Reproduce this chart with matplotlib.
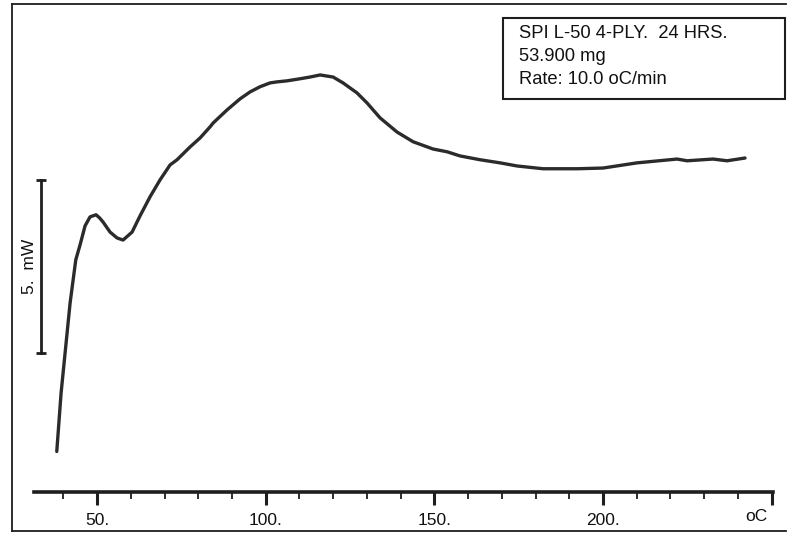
import matplotlib
matplotlib.use("Agg")
import matplotlib.pyplot as plt
from matplotlib.lines import Line2D

plt.rcParams['font.family'] = ['Liberation Sans', 'DejaVu Sans']

# DSC trace: temperature (oC) vs heat flow (mW, arbitrary offset)
temp = [38.05, 39.33, 42.00, 43.69, 44.96, 46.44, 47.92, 49.70, 50.74, 51.78,
        53.85, 55.93, 57.71, 60.38, 62.75, 65.71, 68.68, 71.64, 73.72, 77.57,
        80.54, 83.50, 84.39, 88.54, 92.40, 95.36, 98.33, 101.29, 103.37,
        106.33, 110.18, 113.15, 116.11, 119.97, 122.93, 127.08, 130.05,
        133.90, 138.94, 143.69, 149.61, 153.77, 157.62, 163.55, 169.48,
        174.52, 182.23, 192.31, 200.0, 210.09, 221.95, 224.91, 232.62,
        236.77, 242.11]
heat_flow = [1.17, 2.86, 5.46, 6.71, 7.14, 7.69, 7.95, 8.01, 7.92, 7.80,
             7.51, 7.34, 7.28, 7.51, 7.98, 8.53, 9.02, 9.45, 9.60, 9.97,
             10.23, 10.55, 10.66, 11.04, 11.36, 11.56, 11.71, 11.82, 11.85,
             11.88, 11.94, 11.99, 12.05, 11.99, 11.82, 11.53, 11.24,
             10.81, 10.40, 10.12, 9.91, 9.83, 9.71, 9.60, 9.51,
             9.42, 9.34, 9.34, 9.36, 9.51, 9.62, 9.57, 9.62,
             9.57, 9.65]

major_ticks = [50, 100, 150, 200, 250]
major_labels = ["50.", "100.", "150.", "200.", ""]
minor_ticks = list(range(40, 250, 10))

info_lines = ["SPI L-50 4-PLY.  24 HRS.", "53.900 mg", "Rate: 10.0 oC/min"]
scale_mw = 5.0
ink = "#1e1e1e"

W, H = 788, 533
fig = plt.figure(figsize=(W / 100, H / 100), dpi=100)
ax = fig.add_axes([34 / W, 41 / H, (773 - 34) / W, (492 - 4) / H])
ax.set_xlim(31.3, 250.4)
ax.set_ylim(0, 14.1)

ax.plot(temp, heat_flow, color="#2b2b2b", lw=2.4,
        solid_joinstyle="round", solid_capstyle="round")

for s in ["top", "right", "left"]:
    ax.spines[s].set_visible(False)
ax.spines["bottom"].set_linewidth(2.6)
ax.spines["bottom"].set_color(ink)
ax.set_yticks([])
ax.set_xticks(major_ticks)
ax.set_xticklabels(major_labels)
ax.set_xticks(minor_ticks, minor=True)
ax.tick_params(axis="x", which="major", direction="out", length=9, width=2.2,
               color=ink, labelsize=12.5, pad=6, labelcolor="#111111")
ax.tick_params(axis="x", which="minor", direction="out", length=5, width=1.3,
               color=ink)
ax.text(0.977, -0.035, "oC", transform=ax.transAxes, ha="center", va="top",
        fontsize=12.5, color="#111111")

# 5 mW scale bar
bar_x = 33.4
bar_lo = 4.02
ax.plot([bar_x, bar_x], [bar_lo, bar_lo + scale_mw], color=ink, lw=2.0,
        clip_on=False)
ax.plot([bar_x, bar_x], [bar_lo, bar_lo + scale_mw], color=ink, lw=0,
        marker="_", ms=7, mew=2.0, clip_on=False)
ax.text(30.1, bar_lo + scale_mw / 2, "5.  mW", rotation=90, ha="center",
        va="center", fontsize=12.5, color="#111111", clip_on=False)

# sample info box
box = plt.Rectangle((503 / W, 1 - 99 / H), (785 - 503) / W, (99 - 18) / H,
                    transform=fig.transFigure, fill=False, lw=1.5, ec=ink)
fig.add_artist(box)
for i, line in enumerate(info_lines):
    fig.text(519 / W, 1 - (33 + 23.5 * i) / H, line, ha="left", va="center",
             fontsize=13.2, color="#111111")

# page frame
frame_kw = dict(transform=fig.transFigure, color=ink, lw=1.3)
fig.add_artist(Line2D([12 / W, 12 / W], [1 - 531 / H, 1 - 4 / H], **frame_kw))
fig.add_artist(Line2D([12 / W, 786 / W], [1 - 4 / H, 1 - 4 / H], **frame_kw))
fig.add_artist(Line2D([12 / W, 786 / W], [1 - 531 / H, 1 - 531 / H], **frame_kw))

fig.savefig("out.png", dpi=100, facecolor="white")
